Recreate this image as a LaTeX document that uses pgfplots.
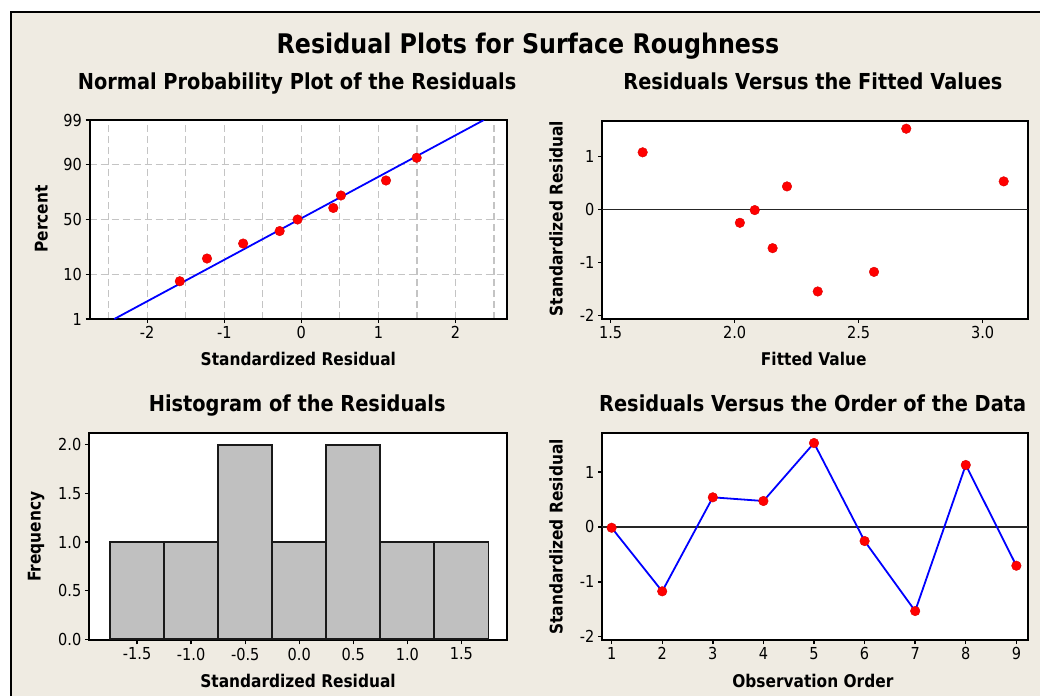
\documentclass[border=0pt]{standalone}
\usepackage{pgfplots}
\pgfplotsset{compat=1.18}
\usepackage{fontspec}
\setmainfont{DejaVu Sans}[FakeStretch=0.88]
\definecolor{bg}{RGB}{239,235,226}
\definecolor{barg}{RGB}{192,192,192}
\definecolor{gridg}{RGB}{196,196,196}
\newcommand\ttl{\fontsize{27}{31}\selectfont\bfseries}
\newcommand\ptl{\fontsize{22}{25}\selectfont\bfseries}
\newcommand\lbl{\fontsize{17.5}{20}\selectfont\bfseries}
\newcommand\tck{\fontsize{16.5}{19}\selectfont}
\pgfplotsset{mt/.style={
  scale only axis,
  anchor=north west,
  axis background/.style={fill=white},
  axis line style={line width=2pt},
  tick style={black,line width=1.4pt},
  major tick length=4pt,
  tick align=outside,
  xtick pos=left, ytick pos=left,
  tick label style={font=\tck},
  label style={font=\lbl},
  title style={font=\ptl, anchor=base, yshift=0pt},
  /pgf/number format/assume math mode=true,
},
 rdot/.style={only marks, mark=*, mark size=4.8pt, mark options={fill=red, draw=red!85!black, line width=0.4pt}}
}
\begin{document}
\begin{tikzpicture}[x=1pt,y=1pt]
\fill[white] (0,0) rectangle (1040,-696);
\fill[bg] (10.8,-11.8) rectangle (1040,-696);
\draw[black, line width=1.8pt] (10.8,-696) -- (10.8,-11.8) -- (1040,-11.8);
\node[font=\ttl, anchor=base] at (528,-53.3) {Residual Plots for Surface Roughness};

% Normal probability plot
\begin{axis}[mt, at={(89.5pt,-120pt)}, width=417.7pt, height=199pt,
  xmin=-2.749, xmax=2.672, ymin=-2.3263, ymax=2.3263,
  xtick={-2,-1,0,1,2}, xticklabels={-2,-1,0,1,2},
  minor xtick={-2.5,-1.5,-0.5,0.5,1.5,2.5}, minor tick length=0pt,
  ytick={-2.3263,-1.2816,0,1.2816,2.3263}, yticklabels={1,10,50,90,99},
  grid=both,
  major grid style={gridg, line width=1.3pt, dash pattern=on 7pt off 4pt},
  minor grid style={gridg, line width=1.3pt, dash pattern=on 7pt off 4pt},
  title={Normal Probability Plot of the Residuals},
  title style={at={(axis description cs:0.497,1.122)}},
  xlabel={Standardized Residual},
  xlabel style={at={(axis description cs:0.5,-0.2)}, anchor=center},
  ylabel={Percent},
  ylabel style={at={(axis description cs:-0.1154,0.502)}, anchor=center},
]
\addplot[blue, line width=1.8pt] coordinates {(-2.427,-2.3263) (2.369,2.3263)};
\addplot[rdot] coordinates {
(-1.577,-1.4433) (-1.224,-0.9121) (-0.755,-0.5615) (-0.281,-0.2699) (-0.049,0)
(0.415,0.2699) (0.514,0.5615) (1.099,0.9121) (1.497,1.4433)};
\end{axis}

% Residuals vs fits
\begin{axis}[mt, at={(602pt,-120.7pt)}, width=426pt, height=198.3pt,
  xmin=1.465, xmax=3.183, ymin=-2.07, ymax=1.675,
  xtick={1.5,2,2.5,3}, xticklabels={1.5,2.0,2.5,3.0},
  ytick={-2,-1,0,1}, yticklabels={-2,-1,0,1},
  title={Residuals Versus the Fitted Values},
  title style={at={(axis description cs:0.495,1.1246)}},
  xlabel={Fitted Value},
  xlabel style={at={(axis description cs:0.497,-0.2017)}, anchor=center},
  ylabel={Standardized Residual},
  ylabel style={at={(axis description cs:-0.108,0.506)}, anchor=center},
]
\draw[black!85, line width=1.5pt] (axis cs:1.465,0) -- (axis cs:3.183,0);
\addplot[rdot] coordinates {
(1.629,1.078) (2.021,-0.253) (2.081,-0.013) (2.153,-0.732) (2.211,0.434)
(2.335,-1.55) (2.562,-1.18) (2.692,1.524) (3.085,0.529)};
\end{axis}

% Histogram
\begin{axis}[mt, at={(88.8pt,-432.7pt)}, width=418.4pt, height=207.6pt,
  xmin=-1.947, xmax=1.924, ymin=-0.01, ymax=2.123,
  xtick={-1.5,-1,-0.5,0,0.5,1,1.5}, xticklabels={-1.5,-1.0,-0.5,0.0,0.5,1.0,1.5},
  ytick={0,0.5,1,1.5,2}, yticklabels={0.0,0.5,1.0,1.5,2.0},
  title={Histogram of the Residuals},
  title style={at={(axis description cs:0.498,1.074)}},
  xlabel={Standardized Residual},
  xlabel style={at={(axis description cs:0.5,-0.195)}, anchor=center},
  ylabel={Frequency},
  ylabel style={at={(axis description cs:-0.1257,0.499)}, anchor=center},
]
\addplot[ybar interval, fill=barg, draw=black!90, line width=1.8pt] coordinates {
(-1.75,1) (-1.25,1) (-0.75,2) (-0.25,1) (0.25,2) (0.75,1) (1.25,1) (1.75,1)};
\end{axis}

% Residuals vs order
\begin{axis}[mt, at={(602pt,-432.7pt)}, width=426pt, height=207.3pt,
  xmin=0.81, xmax=9.23, ymin=-2.06, ymax=1.716,
  xtick={1,2,3,4,5,6,7,8,9}, xticklabels={1,2,3,4,5,6,7,8,9},
  ytick={-2,-1,0,1}, yticklabels={-2,-1,0,1},
  title={Residuals Versus the Order of the Data},
  title style={at={(axis description cs:0.4946,1.074)}},
  xlabel={Observation Order},
  xlabel style={at={(axis description cs:0.495,-0.198)}, anchor=center},
  ylabel={Standardized Residual},
  ylabel style={at={(axis description cs:-0.108,0.497)}, anchor=center},
]
\draw[black!85, line width=1.5pt] (axis cs:0.81,0) -- (axis cs:9.23,0);
\addplot[blue, line width=1.8pt, mark=*, mark size=4.8pt, mark options={fill=red, draw=red!85!black, line width=0.4pt}] coordinates {
(1,-0.015) (2,-1.173) (3,0.539) (4,0.472) (5,1.528) (6,-0.257) (7,-1.532) (8,1.128) (9,-0.707)};
\end{axis}
\pgfresetboundingbox
\useasboundingbox (0,0) rectangle (1040,-696);
\end{tikzpicture}
\end{document}
